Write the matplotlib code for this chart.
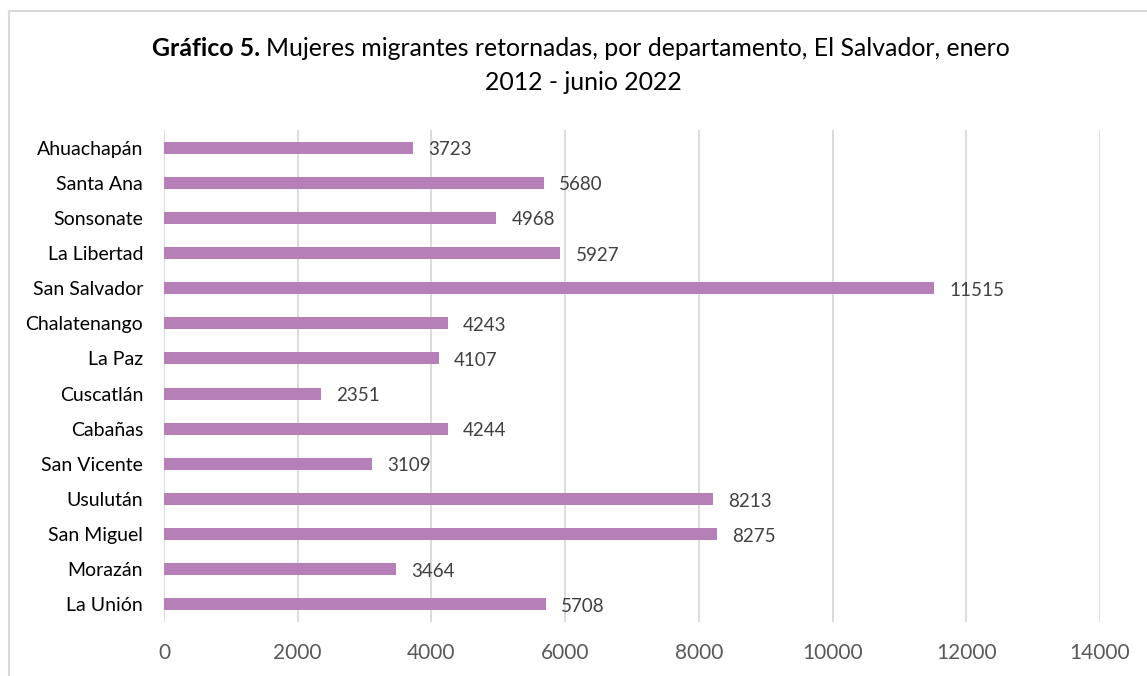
import matplotlib
matplotlib.use("Agg")
import matplotlib.pyplot as plt
from matplotlib.lines import Line2D

departamentos = ["Ahuachapán", "Santa Ana", "Sonsonate", "La Libertad", "San Salvador",
                 "Chalatenango", "La Paz", "Cuscatlán", "Cabañas", "San Vicente",
                 "Usulután", "San Miguel", "Morazán", "La Unión"]
mujeres = [3723, 5680, 4968, 5927, 11515, 4243, 4107, 2351, 4244, 3109,
           8213, 8275, 3464, 5708]
xticks = [0, 2000, 4000, 6000, 8000, 10000, 12000, 14000]

plt.rcParams["font.family"] = ["Lato", "DejaVu Sans"]

W, H = 1147, 676
fig = plt.figure(figsize=(W / 100, H / 100), dpi=100)
ax = fig.add_axes([164 / W, 1 - 622 / H, 936 / W, 492 / H])

ypos = list(range(len(departamentos)))
ax.barh(ypos, mujeres, height=0.34, color="#B77FB7", zorder=3)
for y, v in zip(ypos, mujeres):
    ax.annotate(str(v), (v, y), xytext=(11, -1.5), textcoords="offset points",
                va="center", ha="left", fontsize=13.5, color="#404040")

ax.set_xlim(0, 14000)
ax.set_ylim(len(departamentos) - 0.5, -0.5)
ax.set_xticks(xticks)
ax.set_xticklabels([str(t) for t in xticks], fontsize=15, color="#595959")
ax.set_yticks(ypos)
ax.set_yticklabels(departamentos, fontsize=14, color="#000000")
ax.tick_params(axis="both", length=0)
ax.tick_params(axis="x", pad=15)
ax.tick_params(axis="y", pad=15)
ax.grid(axis="x", color="#D9D9D9", linewidth=1.3, zorder=0)
for s in ax.spines.values():
    s.set_visible(False)

# title: bold lead-in followed by regular text, sized to span x=152..1015 px
t_bold = fig.text(152 / W, 1 - 48 / H, "Gráfico 5.", fontsize=16, fontweight="bold",
                  ha="left", va="center")
t_rest = fig.text(0, 1 - 48 / H,
                  "Mujeres migrantes retornadas, por departamento, El Salvador, enero",
                  fontsize=16, ha="left", va="center")
t_two = fig.text(583 / W, 1 - 83 / H, "2012 - junio 2022", fontsize=16,
                 ha="center", va="center")
r = fig.canvas.get_renderer()
space = 5
w = t_bold.get_window_extent(r).width + space + t_rest.get_window_extent(r).width
size = 16 * 863 / w
for t in (t_bold, t_rest, t_two):
    t.set_fontsize(size)
bw = t_bold.get_window_extent(r).width
t_rest.set_x((152 + bw + space * size / 16) / W)

# chart frame (cut off at right and bottom, as in the source)
fig.add_artist(Line2D([8.5 / W, 8.5 / W], [0, 1 - 11 / H],
                      transform=fig.transFigure, color="#D9D9D9", linewidth=1.5))
fig.add_artist(Line2D([8.5 / W, 1], [1 - 11 / H, 1 - 11 / H],
                      transform=fig.transFigure, color="#D9D9D9", linewidth=1.5))

fig.savefig("out.png", dpi=100)
